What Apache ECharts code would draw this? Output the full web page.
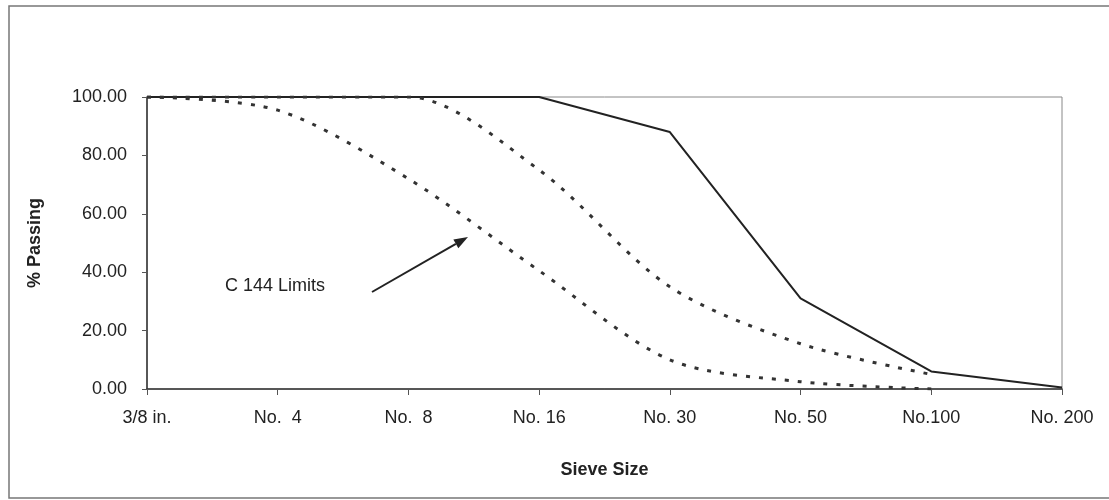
<!DOCTYPE html>
<html>
<head>
<meta charset="utf-8">
<script src="https://cdn.jsdelivr.net/npm/echarts@6/dist/echarts.min.js"></script>
<style>html,body{margin:0;padding:0;background:#fff;}#c{width:1109px;height:500px;}</style>
</head>
<body>
<div id="c"></div>
<script>
const categories = ['3/8 in.', 'No.  4', 'No.  8', 'No. 16', 'No. 30', 'No. 50', 'No.100', 'No. 200'];
const sampleGradation = [100, 100, 100, 100, 88, 31, 6, 0.5];
const upperLimit = [100, 100, 100, 75, 35, 15.5, 5, null];
const lowerLimit = [100, 95.5, 72, 40.5, 10, 2.5, 0, null];
const yTicks = [0, 20, 40, 60, 80, 100];

const chart = echarts.init(document.getElementById('c'), null, {renderer: 'canvas'});
const font = 'Liberation Sans, Arial, sans-serif';

function arrow(x1, y1, x2, y2, len, half) {
  const dx = x2 - x1, dy = y2 - y1, L = Math.hypot(dx, dy);
  const ux = dx / L, uy = dy / L, px = -uy, py = ux;
  const bx = x2 - ux * len, by = y2 - uy * len;
  return [
    {type: 'line', shape: {x1: x1, y1: y1, x2: bx, y2: by}, style: {stroke: '#222', lineWidth: 2}},
    {type: 'polygon', shape: {points: [[x2, y2], [bx + px * half, by + py * half], [bx - px * half, by - py * half]]}, style: {fill: '#222'}}
  ];
}

const option = {
  backgroundColor: '#fff',
  animation: false,
  grid: {left: 147, right: 47, top: 97, bottom: 111, show: true, borderColor: '#888', borderWidth: 1, backgroundColor: 'transparent'},
  xAxis: {
    type: 'category', data: categories, boundaryGap: false,
    name: 'Sieve Size', nameLocation: 'middle', nameGap: 72,
    nameTextStyle: {fontFamily: font, fontSize: 18, fontWeight: 'bold', color: '#222'},
    axisLine: {lineStyle: {color: '#333', width: 1.5}},
    axisTick: {show: true, length: 6, inside: false, lineStyle: {color: '#555'}},
    axisLabel: {fontFamily: font, fontSize: 18, color: '#222', margin: 20},
    splitLine: {show: false}
  },
  yAxis: {
    type: 'value', min: 0, max: 100, interval: 20,
    name: '% Passing', nameLocation: 'middle', nameGap: 103, nameRotate: 90,
    nameTextStyle: {fontFamily: font, fontSize: 18, fontWeight: 'bold', color: '#222'},
    axisLine: {show: true, lineStyle: {color: '#333', width: 1.5}},
    axisTick: {show: true, length: 5, lineStyle: {color: '#555'}},
    axisLabel: {fontFamily: font, fontSize: 18, color: '#222', margin: 20, formatter: v => yTicks.includes(v) ? v.toFixed(2) : ''},
    splitLine: {show: false}
  },
  series: [
    {type: 'line', data: sampleGradation, symbol: 'none', lineStyle: {color: '#222', width: 2}, z: 3},
    {type: 'line', data: upperLimit, symbol: 'none', smooth: 0.3, lineStyle: {color: '#333', width: 3, type: [4, 9]}},
    {type: 'line', data: lowerLimit, symbol: 'none', smooth: 0.3, lineStyle: {color: '#333', width: 3, type: [4, 9]}}
  ],
  graphic: [
    {type: 'rect', shape: {x: 9, y: 6, width: 1130, height: 492}, style: {fill: 'none', stroke: '#777', lineWidth: 1.5}, silent: true},
    {type: 'text', x: 225, y: 286, style: {text: 'C 144 Limits', font: '18px ' + font, fill: '#222', textVerticalAlign: 'middle'}},
    ...arrow(372, 292, 468, 237, 14, 5)
  ]
};
chart.setOption(option);
</script>
</body>
</html>
